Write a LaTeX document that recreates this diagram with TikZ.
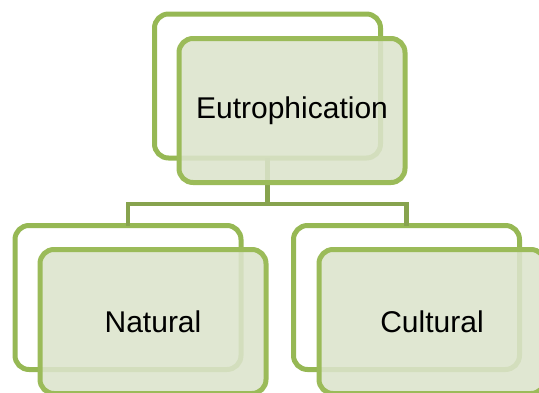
\documentclass[tikz,border=0pt]{standalone}
\usepackage{fontspec}
\setmainfont{Liberation Sans}
\definecolor{frontline}{RGB}{155,187,89}
\definecolor{backline}{RGB}{150,184,84}
\definecolor{connline}{RGB}{135,163,78}
\definecolor{frontfill}{RGB}{220,228,204}
\begin{document}
\begin{tikzpicture}[x=1pt,y=-1pt,
  boxbase/.style={rectangle, rounded corners=14pt, minimum width=226pt, minimum height=144pt, inner sep=0pt, outer sep=0pt},
  backbox/.style={boxbase, draw=backline, line width=5pt, fill=white},
  frontbox/.style={boxbase, draw=frontline, line width=5pt, fill=frontfill, fill opacity=0.88, text opacity=1, font=\fontsize{30}{36}\selectfont},
  conn/.style={draw=connline, line width=4.5pt}]
\useasboundingbox (0,0) rectangle (539,392);
% back boxes
\node[backbox] (tback) at (267.5,86) {};
\node[backbox] (lback) at (128,297.5) {};
\node[backbox] (rback) at (406.5,297.5) {};
% connectors
\coordinate (split) at (267.5,204);
\draw[conn] (tback.south) -- (split);
\draw[conn] (split) -| (lback.north);
\draw[conn] (split) -| (rback.north);
% front boxes
\node[frontbox] (tfront) at (292,110.5) {Eutrophication};
\node[frontbox] (lfront) at (153,321.5) {Natural};
\node[frontbox] (rfront) at (432,321.5) {Cultural};
\end{tikzpicture}
\end{document}
